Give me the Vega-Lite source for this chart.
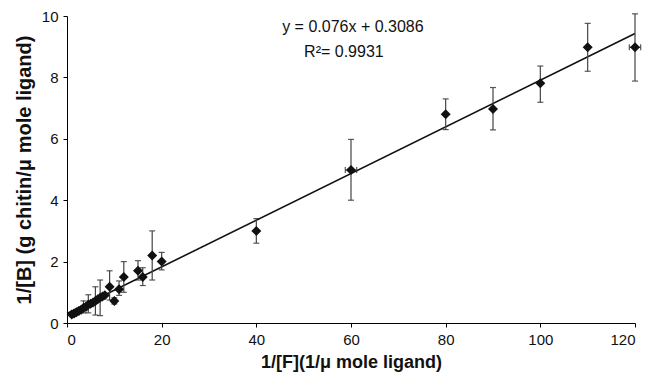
{
  "$schema": "https://vega.github.io/schema/vega-lite/v6.json",
  "width": 568,
  "height": 307,
  "autosize": {"type": "none"},
  "padding": {"left": 67, "top": 16, "right": 25, "bottom": 54},
  "background": "white",
  "config": {
    "view": {"stroke": null},
    "font": "Liberation Sans",
    "axis": {
      "grid": false,
      "domainColor": "black",
      "tickColor": "black",
      "tickSize": 4,
      "labelFont": "Liberation Sans",
      "labelFontSize": 15,
      "labelColor": "#111",
      "titleFont": "Liberation Sans",
      "titleFontWeight": "bold",
      "titleColor": "#111"
    }
  },
  "datasets": {
    "pts": [
      {"x": 1.0, "y": 0.28},
      {"x": 1.5, "y": 0.31},
      {"x": 2.0, "y": 0.35},
      {"x": 2.5, "y": 0.39},
      {"x": 3.0, "y": 0.43},
      {"x": 3.5, "y": 0.5, "ylo": 0.33, "yhi": 0.72},
      {"x": 4.0, "y": 0.52},
      {"x": 4.5, "y": 0.6, "ylo": 0.33, "yhi": 0.92},
      {"x": 5.0, "y": 0.63},
      {"x": 5.5, "y": 0.67},
      {"x": 6.0, "y": 0.72, "ylo": 0.26, "yhi": 1.18},
      {"x": 6.5, "y": 0.77},
      {"x": 7.0, "y": 0.82, "ylo": 0.24, "yhi": 1.4},
      {"x": 7.5, "y": 0.86},
      {"x": 8.0, "y": 0.9},
      {"x": 9.0, "y": 1.18, "ylo": 0.75, "yhi": 1.7},
      {"x": 10.0, "y": 0.72, "ylo": 0.62, "yhi": 0.82},
      {"x": 11.0, "y": 1.1, "ylo": 0.9, "yhi": 1.37},
      {"x": 12.0, "y": 1.5, "ylo": 1.0, "yhi": 2.0},
      {"x": 15.0, "y": 1.7, "ylo": 1.4, "yhi": 2.03},
      {"x": 16.0, "y": 1.5, "ylo": 1.22, "yhi": 1.8},
      {"x": 18.0, "y": 2.2, "ylo": 1.4, "yhi": 3.0},
      {"x": 20.0, "y": 2.0, "ylo": 1.73, "yhi": 2.3},
      {"x": 40.0, "y": 3.0, "ylo": 2.6, "yhi": 3.4},
      {"x": 60.0, "y": 4.98, "ylo": 4.0, "yhi": 5.98, "xlo": 58.8, "xhi": 61.2},
      {"x": 80.0, "y": 6.8, "ylo": 6.3, "yhi": 7.3},
      {"x": 90.0, "y": 6.97, "ylo": 6.29, "yhi": 7.67},
      {"x": 100.0, "y": 7.81, "ylo": 7.19, "yhi": 8.37},
      {"x": 110.0, "y": 8.98, "ylo": 8.2, "yhi": 9.76},
      {"x": 120.0, "y": 8.98, "ylo": 7.88, "yhi": 10.07, "xlo": 118.8, "xhi": 121.2}
    ],
    "fit": [
      {"x": 0, "y": 0.3086},
      {"x": 120, "y": 9.4286}
    ],
    "labels": [
      {"x": 60.4, "y": 9.64, "t": "y = 0.076x + 0.3086"},
      {"x": 58.5, "y": 8.83, "t": "R²= 0.9931"}
    ]
  },
  "encoding": {
    "x": {
      "field": "x", "type": "quantitative",
      "scale": {"domain": [0, 120], "nice": false},
      "axis": {"values": [0, 20, 40, 60, 80, 100, 120], "title": "1/[F](1/μ mole ligand)", "titleFontSize": 18, "labelPadding": 5, "titlePadding": 6}
    },
    "y": {
      "field": "y", "type": "quantitative",
      "scale": {"domain": [0, 10], "nice": false},
      "axis": {"values": [0, 2, 4, 6, 8, 10], "title": "1/[B] (g chitin/μ mole ligand)", "titleFontSize": 20, "labelPadding": 5, "titlePadding": 7}
    }
  },
  "layer": [
    {
      "data": {"name": "fit"},
      "mark": {"type": "line", "color": "#111", "strokeWidth": 1.6}
    },
    {
      "data": {"name": "pts"},
      "transform": [{"filter": "isValid(datum.ylo)"}],
      "mark": {"type": "errorbar", "color": "#444", "thickness": 1.2, "ticks": {"size": 6, "color": "#111", "thickness": 1.2}},
      "encoding": {
        "y": {"field": "ylo", "type": "quantitative"},
        "y2": {"field": "yhi"}
      }
    },
    {
      "data": {"name": "pts"},
      "transform": [{"filter": "isValid(datum.xlo)"}],
      "mark": {"type": "errorbar", "color": "#444", "thickness": 1.2, "ticks": {"size": 6, "color": "#111", "thickness": 1.2}},
      "encoding": {
        "x": {"field": "xlo", "type": "quantitative"},
        "x2": {"field": "xhi"}
      }
    },
    {
      "data": {"name": "pts"},
      "mark": {"type": "point", "shape": "diamond", "filled": true, "size": 100, "color": "#111", "opacity": 1}
    },
    {
      "data": {"name": "labels"},
      "mark": {"type": "text", "fontSize": 16, "font": "Liberation Sans", "color": "#111", "align": "center", "baseline": "middle"},
      "encoding": {"text": {"field": "t"}}
    }
  ]
}
